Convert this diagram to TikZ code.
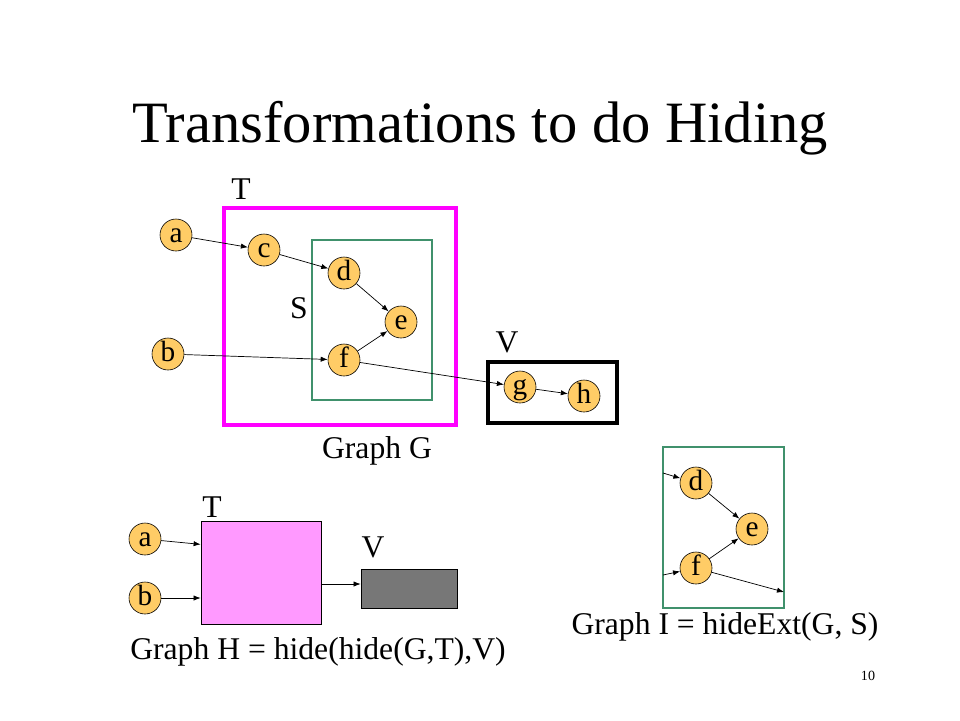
\documentclass[tikz,border=0pt]{standalone}
\usepackage{fontspec}
\setmainfont{Liberation Serif}
\usetikzlibrary{arrows.meta}
\definecolor{nodeorange}{RGB}{255,204,102}
\definecolor{hidemagenta}{RGB}{255,0,255}
\definecolor{hidegreen}{RGB}{64,145,108}
\definecolor{hidepink}{RGB}{255,153,255}
\definecolor{hidegray}{RGB}{119,119,119}

\begin{document}
\begin{tikzpicture}
        [x=0.03cm,y=-0.03cm,
         vertex/.style={draw,shape=circle,fill=nodeorange,line width=0.5pt,inner sep=0,minimum size=0.96cm,text height=15pt,text depth=3pt,font=\fontsize{25}{25}\selectfont},
         txt/.style={inner sep=0,font=\fontsize{27}{27}\selectfont},
         edge/.style={-{Latex[length=6pt,width=4.5pt]},line width=0.6pt}]

        \useasboundingbox[fill=white] (0,0) rectangle (960,720);

        \node[inner sep=0,font=\fontsize{50}{50}\selectfont] (title) at (480,128) {Transformations to do Hiding};

        % graph G
        \draw[hidemagenta,line width=3pt] (224,208) rectangle (456,425);
        \draw[hidegreen,line width=1.6pt] (312,240) rectangle (432,400);
        \draw[black,line width=3pt] (488,362) rectangle (617,423);

        \node[txt] (tT) at (241,189) {T};
        \node[txt] (tS) at (299,308) {S};
        \node[txt] (tV) at (507,342) {V};

        \node[vertex] (a) at (176,235) {a};
        \node[vertex] (b) at (168,354) {b};
        \node[vertex] (c) at (264,250) {c};
        \node[vertex] (d) at (344,273) {d};
        \node[vertex] (e) at (401,322) {e};
        \node[vertex] (f) at (344,360) {f};
        \node[vertex] (g) at (520,387) {g};
        \node[vertex] (h) at (584,396) {h};

        \draw[edge] (a) -- (c);
        \draw[edge] (c) -- (d);
        \draw[edge] (d) -- (e);
        \draw[edge] (f) -- (e);
        \draw[edge] (b) -- (f);
        \draw[edge] (f) -- (g);
        \draw[edge] (g) -- (h);

        \node[txt] (capG) at (377,451) {Graph G};

        % graph H
        \node[draw,fill=hidepink,line width=0.6pt,minimum width=3.6cm,minimum height=3.09cm,inner sep=0] (hT) at (261,572.5) {};
        \node[draw,fill=hidegray,line width=0.6pt,minimum width=2.88cm,minimum height=1.17cm,inner sep=0] (hV) at (409,588.5) {};
        \node[txt] (htT) at (212,507) {T};
        \node[txt] (htV) at (373,547) {V};
        \node[vertex] (ha) at (145,539) {a};
        \node[vertex] (hb) at (145,598) {b};

        \draw[edge] (ha) -- (hT.155);
        \draw[edge] (hb) -- (hb -| hT.west);
        \draw[edge] (hT.east |- 0,584) -- (hV.west |- 0,584);

        \node[txt] (capH) at (318,652) {Graph H = hide(hide(G,T),V)};

        % graph I
        \draw[hidegreen,line width=1.6pt] (663,447) rectangle (784,608);
        \coordinate (din) at (663,473);
        \coordinate (fin) at (663,575);
        \coordinate (fout) at (784,592);
        \node[vertex] (id) at (696,483) {d};
        \node[vertex] (ie) at (752,529) {e};
        \node[vertex] (if) at (696,568) {f};

        \draw[edge] (din) -- (id);
        \draw[edge] (fin) -- (if);
        \draw[edge] (id) -- (ie);
        \draw[edge] (if) -- (ie);
        \draw[edge] (if) -- (fout);

        \node[txt] (capI) at (725,627) {Graph I = hideExt(G, S)};

        \node[inner sep=0,font=\fontsize{12}{12}\selectfont] (page) at (868,676) {10};

      \end{tikzpicture}
\end{document}
